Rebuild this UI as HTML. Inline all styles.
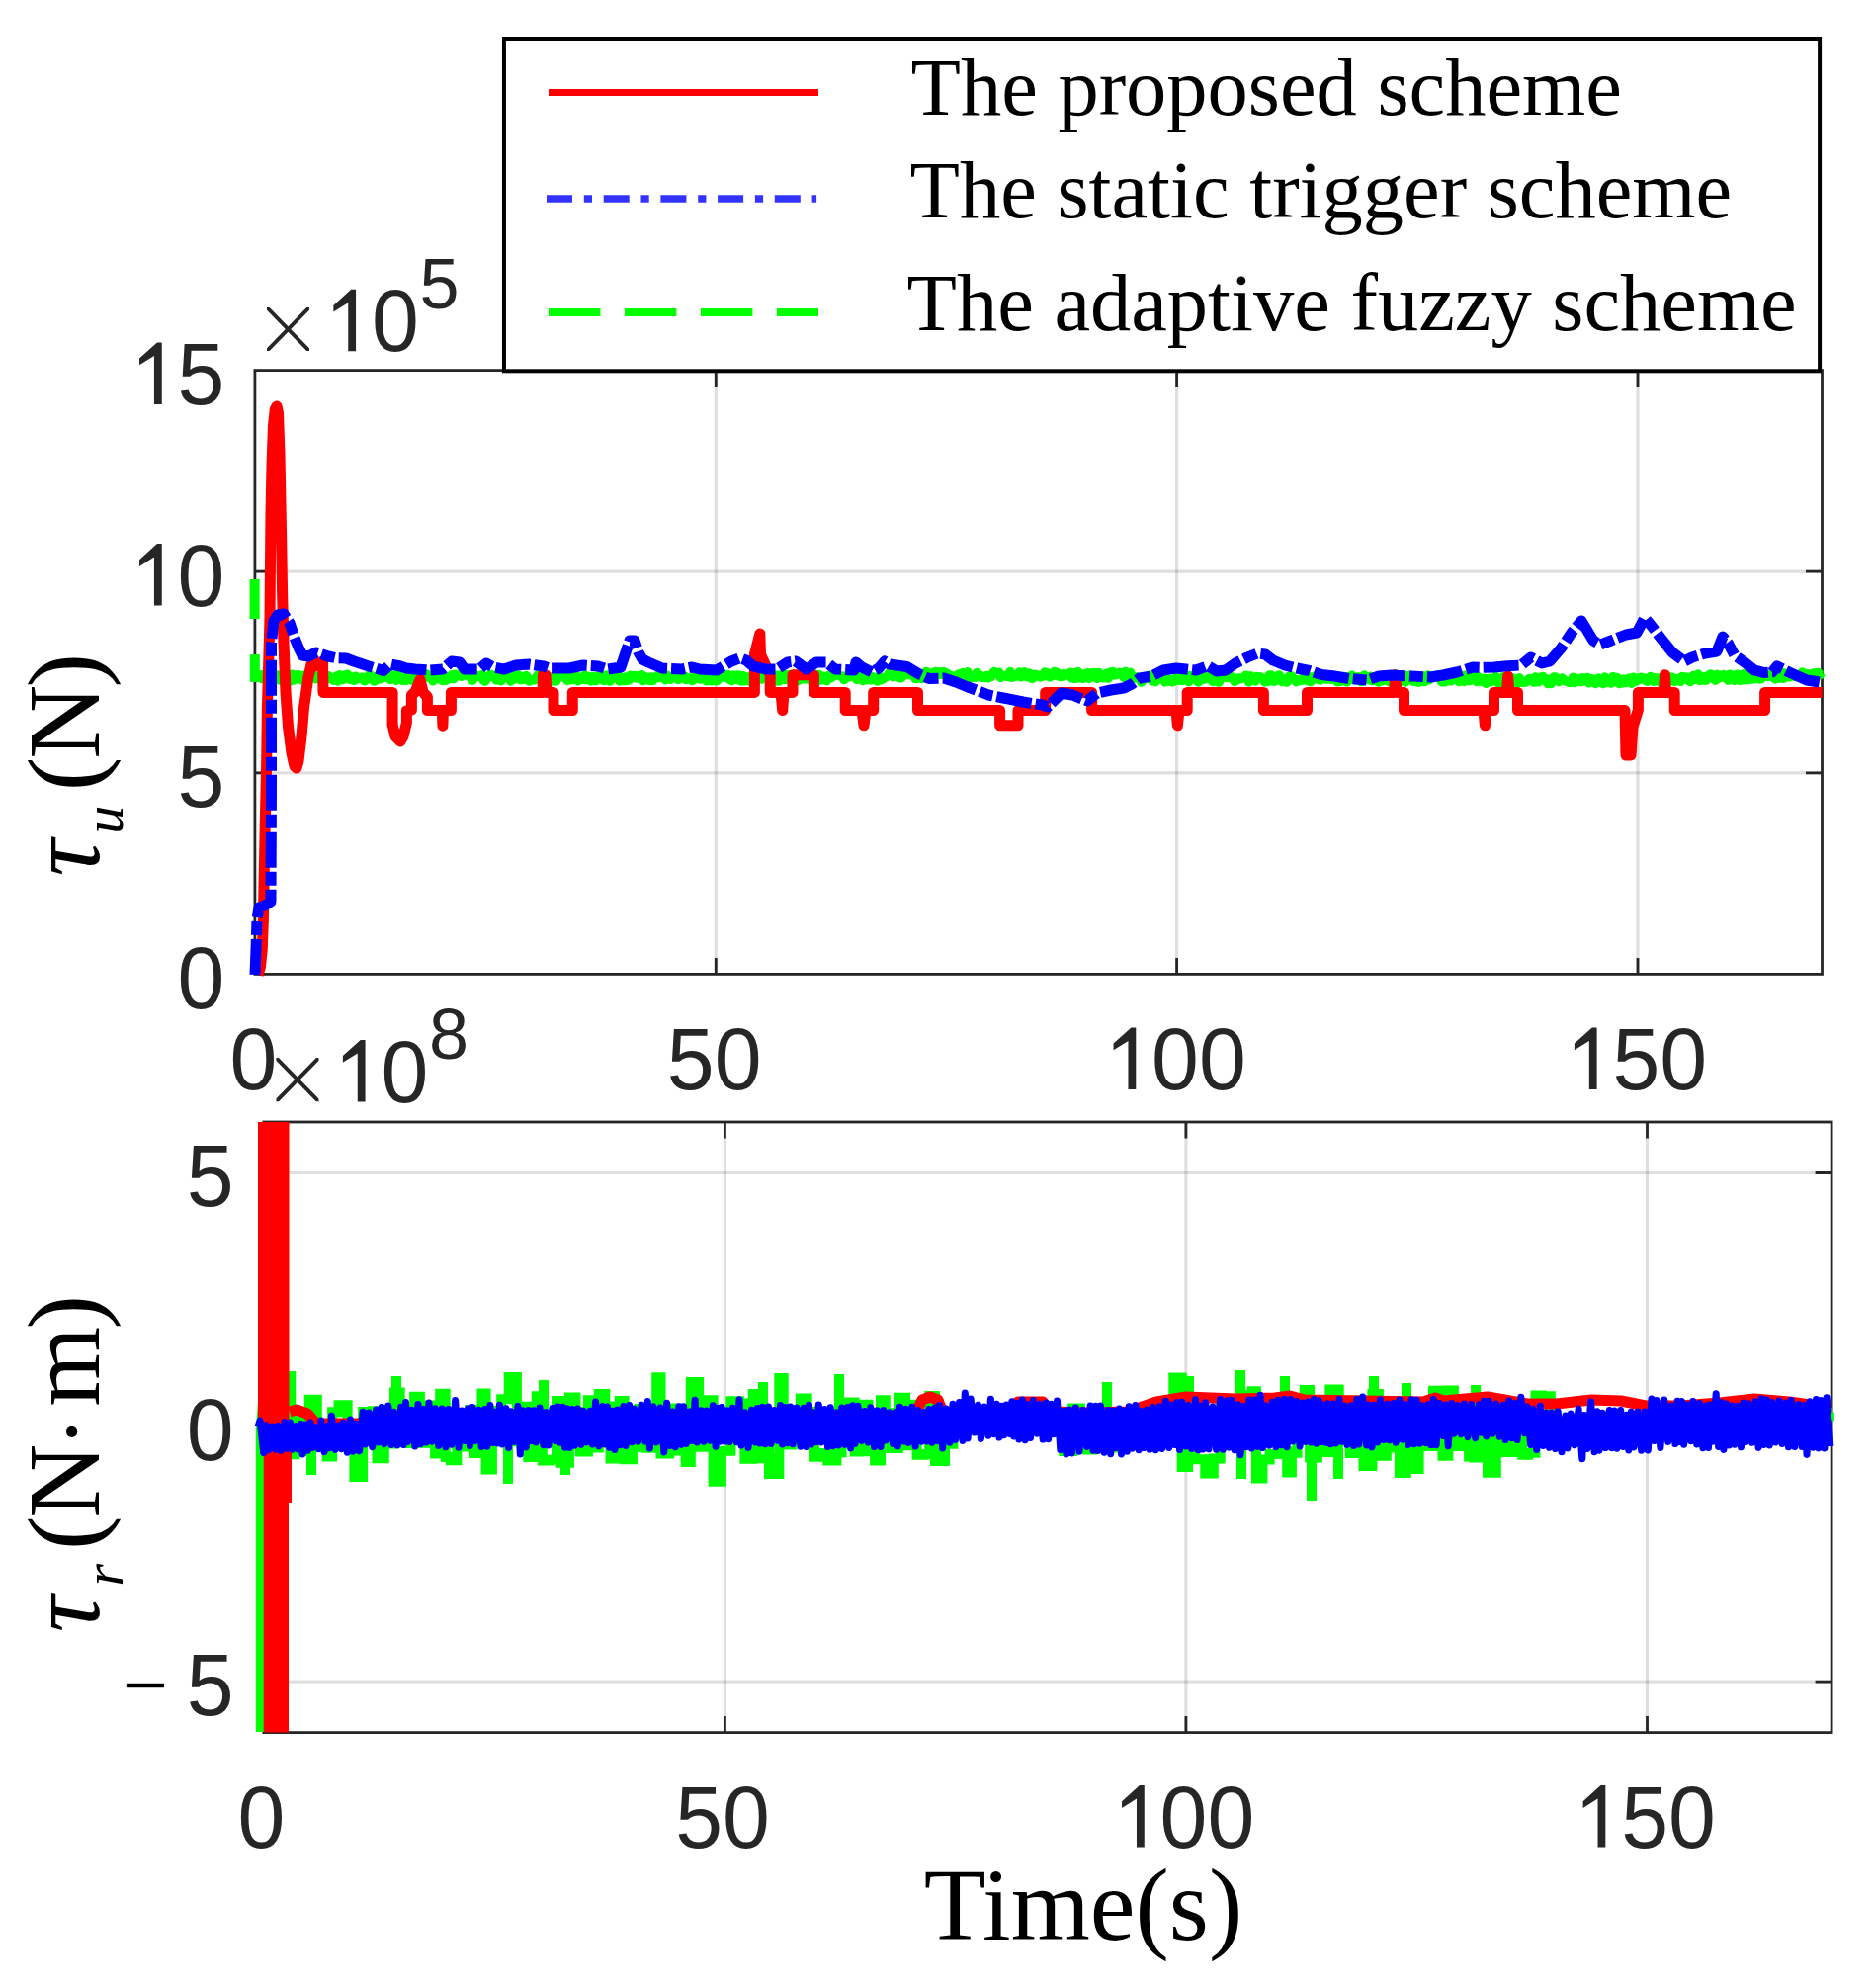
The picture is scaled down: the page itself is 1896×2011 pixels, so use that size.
<!DOCTYPE html>
<html><head><meta charset="utf-8"><style>
html,body{margin:0;padding:0;background:#fff;width:1896px;height:2011px;overflow:hidden}
svg{display:block}
.tk{font-family:"Liberation Sans",sans-serif;fill:#262626}
.sr{font-family:"Liberation Serif",serif;fill:#000}
</style></head><body>
<svg width="1896" height="2011" viewBox="0 0 1896 2011">
<rect width="1896" height="2011" fill="#fff"/>
<path d="M724.3 374.6V985.4M1190.6 374.6V985.4M1657.0 374.6V985.4" stroke="#262626" stroke-opacity="0.15" stroke-width="3.2" fill="none"/>
<path d="M257.9 781.8H1843.5M257.9 578.2H1843.5" stroke="#262626" stroke-opacity="0.15" stroke-width="3.2" fill="none"/>
<path d="M733.4 1135.0V1752.6M1199.9 1135.0V1752.6M1666.5 1135.0V1752.6" stroke="#262626" stroke-opacity="0.15" stroke-width="3.2" fill="none"/>
<path d="M266.8 1701.1H1853.1M266.8 1443.8H1853.1M266.8 1186.5H1853.1" stroke="#262626" stroke-opacity="0.15" stroke-width="3.2" fill="none"/>
<path d="M724.3 985.4V968.9M724.3 374.6V391.1M1190.6 985.4V968.9M1190.6 374.6V391.1M1657.0 985.4V968.9M1657.0 374.6V391.1M257.9 781.8H274.4M1843.5 781.8H1827.0M257.9 578.2H274.4M1843.5 578.2H1827.0" stroke="#262626" stroke-width="2.8" fill="none"/>
<rect x="257.9" y="374.6" width="1585.6" height="610.8" stroke="#262626" stroke-width="2.8" fill="none"/>
<path d="M733.4 1752.6V1736.1M733.4 1135.0V1151.5M1199.9 1752.6V1736.1M1199.9 1135.0V1151.5M1666.5 1752.6V1736.1M1666.5 1135.0V1151.5M266.8 1701.1H283.3M1853.1 1701.1H1836.6M266.8 1443.8H283.3M1853.1 1443.8H1836.6M266.8 1186.5H283.3M1853.1 1186.5H1836.6" stroke="#262626" stroke-width="2.8" fill="none"/>
<rect x="266.8" y="1135.0" width="1586.3" height="617.6" stroke="#262626" stroke-width="2.8" fill="none"/>
<path d="M257.6 586V626M257.8 662V690" stroke="#00ff00" stroke-width="10" fill="none"/>
<path d="M258.5 686.0 L262.0 684.2 L263.6 683.0 L265.2 686.6 L266.8 682.4 L268.4 685.8 L270.0 684.5 L271.6 682.3 L273.2 685.6 L274.8 682.2 L276.4 685.0 L278.0 682.4 L279.6 682.6 L281.2 685.0 L282.8 687.9 L284.4 682.8 L286.0 683.5 L287.6 686.4 L289.2 688.7 L290.8 686.1 L292.4 684.8 L294.0 688.9 L295.6 682.2 L297.2 688.1 L298.8 684.0 L300.4 682.9 L302.0 682.7 L303.6 684.1 L305.2 687.8 L306.8 683.2 L308.4 686.1 L310.0 686.5 L311.6 684.6 L313.2 685.8 L314.8 682.4 L316.4 682.3 L318.0 683.4 L319.6 686.8 L321.2 685.0 L322.8 684.2 L324.4 686.1 L326.0 685.2 L327.6 684.1 L329.2 687.6 L330.8 686.9 L332.4 683.7 L334.0 686.0 L335.6 685.7 L337.2 688.2 L338.8 687.2 L340.4 684.0 L342.0 689.0 L343.6 682.8 L345.2 684.9 L346.8 687.4 L348.4 683.0 L350.0 685.4 L351.6 682.2 L353.2 686.7 L354.8 687.4 L356.4 686.0 L358.0 688.2 L359.6 684.2 L361.2 686.9 L362.8 686.2 L364.4 686.1 L366.0 685.2 L367.6 687.9 L369.2 688.7 L370.8 685.3 L372.4 686.7 L374.0 682.3 L375.6 687.0 L377.2 686.6 L378.8 689.1 L380.4 687.8 L382.0 683.9 L383.6 684.7 L385.2 686.7 L386.8 682.1 L388.4 685.2 L390.0 683.1 L391.6 682.7 L393.2 682.3 L394.8 687.4 L396.4 682.8 L398.0 683.7 L399.6 684.7 L401.2 688.2 L402.8 682.5 L404.4 685.1 L406.0 685.9 L407.6 688.3 L409.2 687.8 L410.8 688.1 L412.4 683.9 L414.0 684.9 L415.6 684.5 L417.2 688.3 L418.8 688.8 L420.4 683.0 L422.0 683.2 L423.6 683.6 L425.2 683.6 L426.8 685.4 L428.4 686.1 L430.0 683.8 L431.6 681.9 L433.2 684.9 L434.8 684.6 L436.4 686.0 L438.0 688.8 L439.6 686.9 L441.2 685.6 L442.8 686.3 L444.4 686.8 L446.0 682.3 L447.6 688.4 L449.2 687.5 L450.8 688.2 L452.4 687.6 L454.0 684.7 L455.6 684.8 L457.2 682.6 L458.8 686.5 L460.4 682.3 L462.0 682.4 L463.6 683.4 L465.2 683.1 L466.8 684.3 L468.4 682.3 L470.0 681.9 L471.6 683.0 L473.2 682.6 L474.8 684.5 L476.4 682.1 L478.0 688.2 L479.6 686.3 L481.2 683.0 L482.8 683.7 L484.4 684.4 L486.0 684.5 L487.6 682.8 L489.2 688.0 L490.8 689.1 L492.4 685.3 L494.0 685.4 L495.6 682.5 L497.2 682.6 L498.8 684.4 L500.4 683.8 L502.0 687.9 L503.6 683.1 L505.2 682.1 L506.8 688.7 L508.4 685.7 L510.0 683.0 L511.6 685.8 L513.2 682.1 L514.8 685.7 L516.4 688.9 L518.0 688.1 L519.6 686.9 L521.2 683.8 L522.8 684.5 L524.4 683.1 L526.0 687.5 L527.6 685.7 L529.2 687.5 L530.8 684.3 L532.4 683.5 L534.0 687.7 L535.6 689.0 L537.2 688.0 L538.8 687.7 L540.4 687.8 L542.0 687.2 L543.6 683.5 L545.2 685.6 L546.8 684.5 L548.4 682.1 L550.0 682.1 L551.6 683.9 L553.2 683.8 L554.8 686.9 L556.4 688.8 L558.0 685.1 L559.6 688.6 L561.2 689.0 L562.8 688.8 L564.4 684.5 L566.0 683.5 L567.6 683.5 L569.2 683.3 L570.8 683.4 L572.4 686.4 L574.0 688.4 L575.6 688.0 L577.2 685.4 L578.8 686.6 L580.4 687.7 L582.0 682.5 L583.6 686.7 L585.2 688.5 L586.8 687.5 L588.4 687.3 L590.0 685.3 L591.6 683.2 L593.2 687.6 L594.8 684.3 L596.4 687.7 L598.0 688.9 L599.6 684.8 L601.2 684.8 L602.8 688.7 L604.4 687.1 L606.0 683.1 L607.6 682.8 L609.2 683.0 L610.8 688.4 L612.4 687.7 L614.0 683.0 L615.6 687.9 L617.2 689.0 L618.8 686.6 L620.4 684.4 L622.0 685.9 L623.6 682.8 L625.2 682.0 L626.8 688.9 L628.4 686.6 L630.0 685.7 L631.6 688.6 L633.2 685.0 L634.8 688.2 L636.4 687.8 L638.0 683.4 L639.6 683.7 L641.2 684.0 L642.8 683.6 L644.4 686.1 L646.0 683.8 L647.6 684.9 L649.2 682.8 L650.8 688.5 L652.4 684.4 L654.0 685.2 L655.6 686.1 L657.2 688.4 L658.8 684.9 L660.4 688.5 L662.0 685.5 L663.6 685.7 L665.2 685.7 L666.8 682.0 L668.4 685.1 L670.0 683.2 L671.6 681.9 L673.2 687.7 L674.8 683.1 L676.4 685.3 L678.0 687.1 L679.6 685.9 L681.2 684.2 L682.8 685.6 L684.4 685.9 L686.0 687.5 L687.6 682.7 L689.2 685.9 L690.8 683.7 L692.4 683.9 L694.0 687.5 L695.6 685.6 L697.2 685.9 L698.8 687.4 L700.4 688.5 L702.0 685.1 L703.6 686.3 L705.2 685.5 L706.8 685.6 L708.4 686.9 L710.0 685.2 L711.6 685.7 L713.2 685.3 L714.8 688.7 L716.4 686.9 L718.0 688.2 L719.6 688.7 L721.2 683.8 L722.8 685.9 L724.4 688.7 L726.0 687.9 L727.6 682.9 L729.2 682.8 L730.8 685.1 L732.4 682.4 L734.0 683.6 L735.6 682.4 L737.2 686.7 L738.8 687.5 L740.4 688.4 L742.0 683.0 L743.6 687.1 L745.2 686.7 L746.8 682.9 L748.4 688.3 L750.0 688.9 L751.6 683.5 L753.2 688.8 L754.8 684.8 L756.4 685.4 L758.0 689.0 L759.6 687.9 L761.2 683.1 L762.8 685.0 L764.4 685.6 L766.0 684.3 L767.6 683.3 L769.2 684.2 L770.8 687.1 L772.4 682.0 L774.0 685.9 L775.6 685.1 L777.2 682.0 L778.8 684.3 L780.4 686.4 L782.0 685.6 L783.6 682.4 L785.2 689.0 L786.8 687.6 L788.4 688.9 L790.0 682.7 L791.6 683.8 L793.2 682.2 L794.8 687.5 L796.4 683.8 L798.0 682.8 L799.6 684.9 L801.2 688.5 L802.8 687.8 L804.4 683.8 L806.0 683.0 L807.6 688.5 L809.2 686.0 L810.8 686.9 L812.4 682.5 L814.0 682.3 L815.6 686.9 L817.2 685.0 L818.8 682.4 L820.4 688.7 L822.0 686.5 L823.6 687.7 L825.2 682.5 L826.8 688.1 L828.4 682.4 L830.0 688.1 L831.6 685.2 L833.2 684.3 L834.8 685.9 L836.4 688.6 L838.0 683.8 L839.6 682.8 L841.2 685.7 L842.8 683.6 L844.4 682.7 L846.0 683.1 L847.6 682.3 L849.2 683.4 L850.8 684.1 L852.4 684.1 L854.0 687.4 L855.6 684.0 L857.2 685.5 L858.8 683.2 L860.4 684.4 L862.0 682.0 L863.6 683.7 L865.2 682.0 L866.8 687.2 L868.4 685.9 L870.0 683.3 L871.6 685.3 L873.2 688.6 L874.8 682.7 L876.4 687.8 L878.0 685.0 L879.6 685.5 L881.2 687.9 L882.8 684.7 L884.4 685.5 L886.0 686.9 L887.6 689.0 L889.2 684.4 L890.8 687.9 L892.4 687.0 L894.0 686.5 L895.6 684.8 L897.2 684.4 L898.8 682.3 L900.4 680.3 L902.0 679.9 L903.6 684.7 L905.2 681.2 L906.8 680.6 L908.4 680.0 L910.0 685.5 L911.6 685.7 L913.2 684.2 L914.8 681.4 L916.4 681.1 L918.0 681.5 L919.6 682.7 L921.2 680.5 L922.8 682.6 L924.4 681.3 L926.0 686.3 L927.6 686.4 L929.2 683.3 L930.8 681.2 L932.4 686.4 L934.0 681.6 L935.6 682.0 L937.2 679.4 L938.8 682.1 L940.4 682.8 L942.0 683.0 L943.6 680.8 L945.2 683.0 L946.8 679.4 L948.4 681.3 L950.0 680.0 L951.6 682.3 L953.2 679.7 L954.8 679.6 L956.4 681.6 L958.0 681.1 L959.6 683.6 L961.2 683.2 L962.8 684.8 L964.4 684.1 L966.0 684.6 L967.6 685.7 L969.2 682.2 L970.8 681.7 L972.4 686.5 L974.0 680.5 L975.6 684.6 L977.2 684.0 L978.8 679.7 L980.4 685.4 L982.0 685.8 L983.6 683.9 L985.2 684.7 L986.8 685.2 L988.4 680.4 L990.0 683.2 L991.6 683.0 L993.2 685.4 L994.8 685.2 L996.4 685.4 L998.0 683.6 L999.6 685.8 L1001.2 684.3 L1002.8 684.4 L1004.4 681.1 L1006.0 679.6 L1007.6 680.4 L1009.2 682.0 L1010.8 680.2 L1012.4 685.4 L1014.0 683.4 L1015.6 683.9 L1017.2 683.9 L1018.8 684.3 L1020.4 682.9 L1022.0 679.4 L1023.6 685.1 L1025.2 684.8 L1026.8 683.0 L1028.4 683.3 L1030.0 684.1 L1031.6 679.9 L1033.2 684.7 L1034.8 681.2 L1036.4 679.9 L1038.0 681.3 L1039.6 684.7 L1041.2 680.9 L1042.8 684.7 L1044.4 686.4 L1046.0 683.0 L1047.6 682.2 L1049.2 682.8 L1050.8 684.3 L1052.4 684.9 L1054.0 683.8 L1055.6 684.0 L1057.2 680.0 L1058.8 680.5 L1060.4 681.2 L1062.0 684.8 L1063.6 681.6 L1065.2 683.5 L1066.8 679.5 L1068.4 679.8 L1070.0 681.3 L1071.6 684.2 L1073.2 684.4 L1074.8 684.3 L1076.4 681.5 L1078.0 683.1 L1079.6 682.7 L1081.2 682.8 L1082.8 680.3 L1084.4 685.8 L1086.0 680.8 L1087.6 686.4 L1089.2 686.1 L1090.8 679.5 L1092.4 682.7 L1094.0 685.3 L1095.6 686.4 L1097.2 682.6 L1098.8 681.3 L1100.4 680.9 L1102.0 686.2 L1103.6 680.9 L1105.2 683.6 L1106.8 680.4 L1108.4 683.2 L1110.0 686.3 L1111.6 680.4 L1113.2 685.3 L1114.8 683.1 L1116.4 685.8 L1118.0 684.5 L1119.6 681.1 L1121.2 685.9 L1122.8 682.9 L1124.4 679.6 L1126.0 679.4 L1127.6 682.9 L1129.2 682.6 L1130.8 681.6 L1132.4 680.4 L1134.0 681.9 L1135.6 681.7 L1137.2 685.4 L1138.8 679.4 L1140.4 684.8 L1142.0 685.4 L1143.6 680.3 L1145.2 686.1 L1146.8 684.5 L1148.4 685.9 L1150.0 685.0 L1151.6 685.6 L1153.2 685.7 L1154.8 690.1 L1156.4 687.1 L1158.0 685.5 L1159.6 686.0 L1161.2 684.9 L1162.8 683.2 L1164.4 683.6 L1166.0 688.9 L1167.6 685.0 L1169.2 689.6 L1170.8 684.7 L1172.4 684.8 L1174.0 686.6 L1175.6 684.3 L1177.2 685.6 L1178.8 689.8 L1180.4 689.3 L1182.0 688.7 L1183.6 687.4 L1185.2 689.5 L1186.8 689.7 L1188.4 686.9 L1190.0 688.1 L1191.6 683.3 L1193.2 688.2 L1194.8 686.1 L1196.4 688.3 L1198.0 687.5 L1199.6 685.0 L1201.2 683.3 L1202.8 689.6 L1204.4 683.8 L1206.0 686.3 L1207.6 685.4 L1209.2 685.0 L1210.8 688.2 L1212.4 689.9 L1214.0 684.8 L1215.6 687.6 L1217.2 685.1 L1218.8 686.9 L1220.4 685.7 L1222.0 684.1 L1223.6 684.1 L1225.2 684.4 L1226.8 689.4 L1228.4 686.5 L1230.0 684.5 L1231.6 689.4 L1233.2 690.1 L1234.8 686.1 L1236.4 683.9 L1238.0 684.3 L1239.6 683.6 L1241.2 685.4 L1242.8 683.6 L1244.4 684.6 L1246.0 684.8 L1247.6 687.0 L1249.2 689.3 L1250.8 688.3 L1252.4 685.9 L1254.0 685.9 L1255.6 686.7 L1257.2 685.6 L1258.8 685.3 L1260.4 683.3 L1262.0 684.9 L1263.6 689.9 L1265.2 683.8 L1266.8 686.5 L1268.4 687.4 L1270.0 689.1 L1271.6 684.5 L1273.2 684.9 L1274.8 684.7 L1276.4 685.8 L1278.0 686.1 L1279.6 689.8 L1281.2 689.0 L1282.8 689.2 L1284.4 683.1 L1286.0 683.1 L1287.6 688.0 L1289.2 689.3 L1290.8 686.3 L1292.4 687.1 L1294.0 682.9 L1295.6 685.7 L1297.2 689.6 L1298.8 688.8 L1300.4 689.1 L1302.0 689.9 L1303.6 684.7 L1305.2 683.7 L1306.8 684.0 L1308.4 686.7 L1310.0 687.8 L1311.6 689.7 L1313.2 688.1 L1314.8 687.6 L1316.4 688.4 L1318.0 686.2 L1319.6 686.9 L1321.2 683.2 L1322.8 688.5 L1324.4 684.6 L1326.0 689.5 L1327.6 687.5 L1329.2 685.1 L1330.8 683.8 L1332.4 684.7 L1334.0 687.5 L1335.6 687.9 L1337.2 683.7 L1338.8 683.4 L1340.4 686.7 L1342.0 687.1 L1343.6 685.7 L1345.2 684.5 L1346.8 687.2 L1348.4 683.0 L1350.0 685.1 L1351.6 686.2 L1353.2 689.8 L1354.8 687.5 L1356.4 689.3 L1358.0 686.3 L1359.6 684.6 L1361.2 684.7 L1362.8 689.8 L1364.4 688.0 L1366.0 685.1 L1367.6 683.1 L1369.2 686.5 L1370.8 687.8 L1372.4 685.9 L1374.0 684.8 L1375.6 687.7 L1377.2 689.6 L1378.8 684.5 L1380.4 683.1 L1382.0 685.3 L1383.6 685.9 L1385.2 687.8 L1386.8 684.3 L1388.4 688.6 L1390.0 688.2 L1391.6 686.5 L1393.2 684.4 L1394.8 689.9 L1396.4 685.1 L1398.0 688.8 L1399.6 684.6 L1401.2 684.5 L1402.8 688.4 L1404.4 685.0 L1406.0 689.8 L1407.6 686.5 L1409.2 684.2 L1410.8 684.5 L1412.4 685.9 L1414.0 687.7 L1415.6 689.7 L1417.2 684.0 L1418.8 685.7 L1420.4 684.4 L1422.0 689.9 L1423.6 683.9 L1425.2 683.3 L1426.8 683.3 L1428.4 685.7 L1430.0 689.4 L1431.6 689.3 L1433.2 688.2 L1434.8 690.1 L1436.4 689.6 L1438.0 685.3 L1439.6 684.2 L1441.2 689.6 L1442.8 688.3 L1444.4 683.1 L1446.0 687.7 L1447.6 685.6 L1449.2 685.6 L1450.8 685.3 L1452.4 684.1 L1454.0 682.9 L1455.6 684.9 L1457.2 685.4 L1458.8 689.8 L1460.4 683.8 L1462.0 689.8 L1463.6 684.4 L1465.2 685.5 L1466.8 688.8 L1468.4 688.8 L1470.0 686.0 L1471.6 683.3 L1473.2 686.3 L1474.8 685.6 L1476.4 689.5 L1478.0 684.3 L1479.6 685.5 L1481.2 689.4 L1482.8 683.1 L1484.4 685.9 L1486.0 688.7 L1487.6 688.4 L1489.2 683.2 L1490.8 683.2 L1492.4 683.4 L1494.0 689.5 L1495.6 684.8 L1497.2 688.3 L1498.8 689.4 L1500.4 686.8 L1502.0 686.4 L1503.6 691.3 L1505.2 688.8 L1506.8 686.3 L1508.4 689.6 L1510.0 686.7 L1511.6 686.4 L1513.2 684.4 L1514.8 689.8 L1516.4 691.0 L1518.0 689.0 L1519.6 691.2 L1521.2 684.6 L1522.8 686.1 L1524.4 687.8 L1526.0 691.3 L1527.6 691.3 L1529.2 687.2 L1530.8 686.2 L1532.4 687.5 L1534.0 688.0 L1535.6 691.1 L1537.2 685.7 L1538.8 690.2 L1540.4 689.7 L1542.0 690.3 L1543.6 690.0 L1545.2 688.8 L1546.8 686.8 L1548.4 686.7 L1550.0 687.0 L1551.6 690.0 L1553.2 685.0 L1554.8 685.8 L1556.4 689.8 L1558.0 686.2 L1559.6 684.9 L1561.2 684.6 L1562.8 688.4 L1564.4 686.7 L1566.0 691.5 L1567.6 690.8 L1569.2 691.5 L1570.8 686.3 L1572.4 685.0 L1574.0 685.1 L1575.6 688.0 L1577.2 689.5 L1578.8 687.6 L1580.4 686.1 L1582.0 687.4 L1583.6 688.9 L1585.2 689.3 L1586.8 689.8 L1588.4 690.5 L1590.0 689.2 L1591.6 685.3 L1593.2 690.5 L1594.8 686.5 L1596.4 688.5 L1598.0 687.1 L1599.6 689.7 L1601.2 685.8 L1602.8 686.2 L1604.4 686.2 L1606.0 685.5 L1607.6 690.8 L1609.2 688.6 L1610.8 686.7 L1612.4 687.3 L1614.0 691.5 L1615.6 688.1 L1617.2 686.1 L1618.8 690.2 L1620.4 689.1 L1622.0 691.5 L1623.6 685.1 L1625.2 687.8 L1626.8 690.3 L1628.4 690.5 L1630.0 691.0 L1631.6 684.7 L1633.2 686.5 L1634.8 685.3 L1636.4 685.8 L1638.0 691.4 L1639.6 688.6 L1641.2 691.1 L1642.8 687.1 L1644.4 690.6 L1646.0 687.6 L1647.6 686.3 L1649.2 690.0 L1650.8 691.2 L1652.4 685.2 L1654.0 688.7 L1655.6 688.9 L1657.2 686.0 L1658.8 687.1 L1660.4 685.4 L1662.0 685.9 L1663.6 686.2 L1665.2 688.7 L1666.8 689.1 L1668.4 685.9 L1670.0 684.5 L1671.6 686.8 L1673.2 689.3 L1674.8 685.7 L1676.4 686.6 L1678.0 685.9 L1679.6 690.1 L1681.2 688.3 L1682.8 684.9 L1684.4 685.1 L1686.0 687.2 L1687.6 688.4 L1689.2 689.0 L1690.8 685.1 L1692.4 685.6 L1694.0 689.4 L1695.6 687.4 L1697.2 686.4 L1698.8 686.6 L1700.4 689.3 L1702.0 684.6 L1703.6 686.4 L1705.2 684.9 L1706.8 685.3 L1708.4 688.5 L1710.0 689.4 L1711.6 684.8 L1713.2 683.6 L1714.8 687.3 L1716.4 683.5 L1718.0 682.1 L1719.6 688.5 L1721.2 685.0 L1722.8 687.9 L1724.4 684.8 L1726.0 688.2 L1727.6 685.2 L1729.2 683.0 L1730.8 681.9 L1732.4 685.7 L1734.0 686.3 L1735.6 688.2 L1737.2 682.3 L1738.8 686.1 L1740.4 684.3 L1742.0 685.2 L1743.6 682.6 L1745.2 683.5 L1746.8 685.2 L1748.4 688.1 L1750.0 682.2 L1751.6 684.9 L1753.2 687.1 L1754.8 688.3 L1756.4 682.7 L1758.0 682.2 L1759.6 688.0 L1761.2 688.2 L1762.8 684.6 L1764.4 681.5 L1766.0 687.7 L1767.6 683.8 L1769.2 687.5 L1770.8 685.5 L1772.4 686.9 L1774.0 682.1 L1775.6 686.5 L1777.2 682.5 L1778.8 683.7 L1780.4 686.9 L1782.0 686.7 L1783.6 682.0 L1785.2 682.3 L1786.8 683.5 L1788.4 684.4 L1790.0 683.4 L1791.6 681.5 L1793.2 682.3 L1794.8 685.7 L1796.4 686.9 L1798.0 680.7 L1799.6 684.5 L1801.2 685.8 L1802.8 680.6 L1804.4 686.3 L1806.0 681.1 L1807.6 684.6 L1809.2 684.2 L1810.8 684.7 L1812.4 682.4 L1814.0 683.1 L1815.6 684.3 L1817.2 683.1 L1818.8 684.8 L1820.4 683.2 L1822.0 683.1 L1823.6 680.1 L1825.2 684.4 L1826.8 683.4 L1828.4 681.5 L1830.0 685.3 L1831.6 685.4 L1833.2 683.0 L1834.8 681.0 L1836.4 683.1 L1838.0 680.4 L1839.6 680.5 L1841.2 682.7 L1842.8 680.2" stroke="#00ff00" stroke-width="9.5" fill="none" stroke-linejoin="round"/>
<path d="M261.0 986.0 L263.5 978.0 L265.3 960.0 L266.4 930.0 L267.3 880.0 L268.2 836.0 L269.6 776.0 L270.4 716.0 L272.0 660.0 L273.0 625.0 L273.4 580.0 L274.0 520.0 L275.0 470.0 L276.5 430.0 L278.3 414.0 L280.0 411.0 L281.5 418.0 L283.0 460.0 L284.6 540.0 L285.6 600.0 L287.0 650.0 L289.0 700.0 L291.5 735.0 L295.0 762.0 L298.0 775.0 L300.0 777.0 L302.0 770.0 L305.0 745.0 L307.5 716.0 L311.8 686.0 L315.0 672.0 L318.0 674.0 L322.0 671.0 L326.5 669.0 L327.0 700.4 L397.1 700.4 L397.1 733.0 L400.0 745.0 L404.9 750.0 L408.0 745.0 L411.4 731.0 L411.4 719.0 L416.4 718.0 L416.4 703.0 L420.0 700.0 L425.0 687.3 L428.0 700.0 L432.4 705.0 L432.4 718.6 L447.4 718.6 L447.9 734.2 L448.4 718.6 L456.4 718.6 L456.4 700.4 L549.0 700.4 L549.5 682.8 L552.0 682.8 L553.0 700.4 L560.0 700.4 L560.0 718.6 L579.3 718.6 L579.3 700.4 L763.4 700.4 L763.4 662.0 L768.8 641.0 L769.5 662.0 L779.2 683.0 L779.2 700.4 L790.0 700.4 L791.7 718.6 L793.0 700.4 L802.0 700.4 L802.0 682.8 L823.4 682.8 L823.4 700.4 L855.2 700.4 L855.2 718.6 L872.0 718.6 L874.0 733.8 L876.0 718.6 L883.7 718.6 L883.7 700.4 L928.5 700.4 L928.5 718.6 L1011.6 718.6 L1011.6 733.8 L1030.0 733.8 L1030.0 718.6 L1057.7 718.6 L1057.7 700.4 L1104.6 700.4 L1104.6 718.6 L1190.0 718.6 L1191.4 733.8 L1193.0 718.6 L1201.2 718.6 L1201.2 700.4 L1278.4 700.4 L1278.4 718.6 L1322.5 718.6 L1322.5 700.4 L1410.5 700.4 L1411.7 682.8 L1413.0 700.4 L1420.5 700.4 L1420.5 718.6 L1501.0 718.6 L1502.4 733.8 L1504.0 718.6 L1511.5 718.6 L1511.5 700.4 L1524.5 700.4 L1525.6 684.0 L1527.0 700.4 L1535.5 700.4 L1535.5 718.6 L1644.0 718.6 L1645.0 764.0 L1650.0 764.0 L1652.0 735.0 L1657.4 718.0 L1657.4 700.4 L1683.5 700.4 L1684.4 682.8 L1685.5 700.4 L1694.2 700.4 L1694.2 718.6 L1785.6 718.6 L1785.6 700.4 L1843.5 700.4" stroke="#ff0000" stroke-width="11" fill="none" stroke-linejoin="round" stroke-linecap="butt"/>
<path d="M258.0 986.0 L259.0 960.0 L260.0 930.0 L262.0 918.0 L268.0 916.0 L274.0 912.0 L274.5 800.0 L274.5 650.0 L277.0 628.0 L281.0 622.0 L287.0 621.0 L293.0 630.0 L298.0 645.0 L302.0 655.0 L306.0 663.0 L312.0 664.0 L320.0 660.0 L326.0 662.0 L332.0 664.0 L340.0 665.7 L350.0 666.0 L358.0 669.0 L370.0 673.0 L388.0 678.5 L395.0 672.0 L405.0 674.0 L411.0 676.0 L420.0 677.0 L435.0 678.0 L448.0 677.0 L457.0 669.0 L465.0 670.0 L470.0 677.0 L485.0 677.0 L492.0 671.0 L499.0 675.0 L510.0 677.0 L522.0 673.0 L535.0 672.0 L550.0 674.0 L556.0 676.0 L565.0 676.0 L576.0 676.0 L590.0 673.0 L605.0 674.0 L615.0 677.0 L628.0 675.0 L637.0 648.0 L642.0 648.0 L646.0 660.0 L650.0 667.0 L656.0 670.0 L670.0 676.0 L690.0 677.0 L700.0 675.0 L708.0 677.0 L725.0 678.0 L740.0 669.0 L748.5 665.7 L755.0 668.0 L762.0 674.0 L775.0 677.0 L786.0 677.0 L797.0 670.0 L805.0 669.0 L816.0 677.0 L826.0 670.0 L836.0 670.0 L845.0 677.0 L864.0 678.0 L866.0 670.0 L872.0 675.0 L882.0 680.0 L889.0 676.0 L895.0 669.0 L900.0 672.0 L917.6 674.5 L930.0 682.0 L940.0 686.5 L955.0 686.0 L967.0 690.0 L978.0 694.5 L990.0 699.0 L1000.0 703.0 L1015.0 706.0 L1035.0 710.0 L1054.5 713.0 L1060.0 715.0 L1074.0 701.0 L1085.0 703.0 L1100.0 709.0 L1110.0 701.0 L1124.0 698.0 L1137.0 696.0 L1145.0 692.0 L1153.0 686.0 L1165.0 684.0 L1177.0 678.0 L1190.0 676.0 L1200.0 677.0 L1210.0 678.0 L1222.0 673.7 L1231.0 679.0 L1240.0 678.0 L1250.0 671.0 L1262.0 665.0 L1267.0 663.0 L1272.0 661.0 L1280.0 662.0 L1288.0 668.0 L1300.0 673.0 L1312.0 676.0 L1324.5 678.5 L1337.0 682.5 L1350.0 684.0 L1365.0 686.5 L1383.0 688.0 L1395.0 684.0 L1408.0 683.0 L1428.0 684.0 L1447.0 685.0 L1460.0 683.0 L1474.0 680.0 L1490.0 675.0 L1500.0 675.3 L1512.0 675.0 L1525.0 673.7 L1539.0 673.0 L1548.8 665.0 L1560.0 671.0 L1568.0 669.0 L1580.0 655.0 L1590.0 640.0 L1600.0 628.0 L1606.0 638.0 L1612.0 648.0 L1619.0 652.0 L1630.0 648.0 L1645.0 642.0 L1656.0 640.0 L1664.0 625.0 L1670.0 632.0 L1680.0 645.0 L1692.0 660.0 L1704.0 669.0 L1712.0 665.0 L1725.0 661.0 L1737.0 659.0 L1743.0 644.0 L1748.0 650.0 L1755.0 663.0 L1765.0 670.0 L1775.0 678.0 L1785.0 680.5 L1793.0 680.0 L1797.8 674.0 L1810.0 680.0 L1828.0 688.0 L1843.5 690.5" stroke="#0000ff" stroke-width="11" fill="none" stroke-linejoin="round" stroke-dasharray="36 4 14 4"/>
<path d="M263.8 1752.0 L263.8 1446.0 L266.0 1417.5 L272.8 1417.5 L272.8 1470.7 L279.9 1470.7 L279.9 1488.7 L284.4 1488.7 L284.4 1392.0 L294.2 1392.0 L294.2 1471.3 L298.3 1471.3 L298.3 1428.5 L303.7 1428.5 L303.7 1468.0 L312.8 1468.0 L312.8 1415.7 L320.8 1415.7 L320.8 1463.9 L330.7 1463.9 L330.7 1473.4 L336.1 1473.4 L336.1 1428.3 L342.5 1428.3 L342.5 1421.3 L351.6 1421.3 L351.6 1462.4 L358.4 1462.4 L358.4 1493.9 L367.1 1493.9 L367.1 1427.9 L376.9 1427.9 L376.9 1427.2 L381.5 1427.2 L381.5 1475.3 L388.8 1475.3 L388.8 1425.6 L393.6 1425.6 L393.6 1460.4 L398.9 1460.4 L398.9 1408.4 L404.7 1408.4 L404.7 1425.2 L413.9 1425.2 L413.9 1460.0 L419.1 1460.0 L419.1 1412.8 L424.9 1412.8 L424.9 1459.8 L430.4 1459.8 L430.4 1421.6 L440.1 1421.6 L440.1 1470.4 L445.2 1470.4 L445.2 1409.8 L450.7 1409.8 L450.7 1474.1 L455.9 1474.1 L455.9 1477.2 L462.4 1477.2 L462.4 1428.9 L467.9 1428.9 L467.9 1463.5 L475.4 1463.5 L475.4 1425.9 L479.9 1425.9 L479.9 1470.1 L487.5 1470.1 L487.5 1409.6 L491.6 1409.6 L491.6 1486.6 L497.9 1486.6 L497.9 1426.9 L507.2 1426.9 L507.2 1415.3 L514.7 1415.3 L514.7 1392.9 L522.9 1392.9 L522.9 1458.3 L529.8 1458.3 L529.8 1422.8 L534.3 1422.8 L534.3 1474.0 L542.7 1474.0 L542.7 1412.3 L548.8 1412.3 L548.8 1477.6 L555.3 1477.6 L555.3 1476.8 L563.0 1476.8 L563.0 1417.0 L567.5 1417.0 L567.5 1479.7 L575.9 1479.7 L575.9 1413.6 L582.5 1413.6 L582.5 1428.0 L586.7 1428.0 L586.7 1468.4 L594.9 1468.4 L594.9 1416.3 L600.4 1416.3 L600.4 1464.4 L605.7 1464.4 L605.7 1409.9 L612.3 1409.9 L612.3 1422.6 L617.5 1422.6 L617.5 1475.5 L626.8 1475.5 L626.8 1417.0 L631.6 1417.0 L631.6 1476.2 L639.9 1476.2 L639.9 1463.9 L646.6 1463.9 L646.6 1425.1 L654.3 1425.1 L654.3 1464.7 L664.2 1464.7 L664.2 1393.3 L668.5 1393.3 L668.5 1470.4 L677.2 1470.4 L677.2 1426.8 L681.4 1426.8 L681.4 1424.6 L685.6 1424.6 L685.6 1467.6 L693.6 1467.6 L693.6 1478.9 L698.8 1478.9 L698.8 1398.1 L707.1 1398.1 L707.1 1463.8 L715.2 1463.8 L715.2 1416.3 L721.6 1416.3 L721.6 1498.7 L729.9 1498.7 L729.9 1467.8 L739.4 1467.8 L739.4 1417.3 L748.2 1417.3 L748.2 1419.6 L753.4 1419.6 L753.4 1475.8 L761.7 1475.8 L761.7 1410.0 L771.6 1410.0 L771.6 1475.2 L781.0 1475.2 L781.0 1490.9 L788.3 1490.9 L788.3 1394.1 L792.7 1394.1 L792.7 1461.6 L801.4 1461.6 L801.4 1426.5 L809.8 1426.5 L809.8 1414.6 L816.7 1414.6 L816.7 1427.9 L823.9 1427.9 L823.9 1473.8 L831.0 1473.8 L831.0 1470.1 L837.3 1470.1 L837.3 1477.6 L846.4 1477.6 L846.4 1469.3 L851.6 1469.3 L851.6 1418.7 L855.8 1418.7 L855.8 1418.4 L864.6 1418.4 L864.6 1468.6 L869.0 1468.6 L869.0 1420.7 L878.5 1420.7 L878.5 1468.2 L885.1 1468.2 L885.1 1477.6 L891.0 1477.6 L891.0 1416.2 L895.8 1416.2 L895.8 1429.3 L901.2 1429.3 L901.2 1464.9 L908.9 1464.9 L908.9 1413.7 L916.0 1413.7 L916.0 1462.2 L922.6 1462.2 L922.6 1420.7 L927.6 1420.7 L927.6 1471.7 L934.7 1471.7 L934.7 1471.3 L940.1 1471.3 L940.1 1412.0 L946.0 1412.0 L946.0 1478.1 L956.0 1478.1 L956.0 1460.7 L964.4 1460.7 L964.4 1431.9 L973.4 1431.9 L973.4 1447.7 L978.1 1447.7 L978.1 1425.5 L982.2 1425.5 L982.2 1446.5 L991.7 1446.5 L991.7 1440.3 L998.7 1440.3 L998.7 1444.5 L1006.8 1444.5 L1006.8 1432.2 L1011.5 1432.2 L1011.5 1445.1 L1018.6 1445.1 L1018.6 1431.4 L1023.7 1431.4 L1023.7 1448.2 L1033.6 1448.2 L1033.6 1440.0 L1038.0 1440.0 L1038.0 1444.1 L1046.6 1444.1 L1046.6 1427.9 L1053.7 1427.9 L1053.7 1445.6 L1057.7 1445.6 L1057.7 1423.7 L1062.8 1423.7 L1062.8 1447.1 L1069.3 1447.1 L1069.3 1431.2 L1076.3 1431.2 L1076.3 1468.1 L1085.2 1468.1 L1085.2 1424.5 L1092.9 1424.5 L1092.9 1462.8 L1100.0 1462.8 L1100.0 1466.5 L1105.5 1466.5 L1105.5 1465.4 L1114.2 1465.4 L1114.2 1459.3 L1123.6 1459.3 L1123.6 1464.5 L1132.2 1464.5 L1132.2 1459.3 L1140.5 1459.3 L1140.5 1433.8 L1147.3 1433.8 L1147.3 1458.4 L1155.1 1458.4 L1155.1 1435.8 L1164.8 1435.8 L1164.8 1458.1 L1172.8 1458.1 L1172.8 1430.4 L1179.1 1430.4 L1179.1 1428.4 L1187.3 1428.4 L1187.3 1393.6 L1195.7 1393.6 L1195.7 1484.1 L1202.0 1484.1 L1202.0 1421.5 L1209.3 1421.5 L1209.3 1476.3 L1219.3 1476.3 L1219.3 1490.6 L1227.8 1490.6 L1227.8 1475.5 L1234.7 1475.5 L1234.7 1416.1 L1239.0 1416.1 L1239.0 1417.7 L1246.6 1417.7 L1246.6 1461.3 L1254.0 1461.3 L1254.0 1411.2 L1258.0 1411.2 L1258.0 1455.9 L1266.6 1455.9 L1266.6 1407.3 L1270.9 1407.3 L1270.9 1495.5 L1277.4 1495.5 L1277.4 1476.4 L1284.6 1476.4 L1284.6 1470.9 L1294.5 1470.9 L1294.5 1468.3 L1302.2 1468.3 L1302.2 1489.4 L1306.9 1489.4 L1306.9 1469.7 L1312.5 1469.7 L1312.5 1417.8 L1319.7 1417.8 L1319.7 1406.0 L1325.1 1406.0 L1325.1 1474.6 L1332.9 1474.6 L1332.9 1421.0 L1340.3 1421.0 L1340.3 1468.9 L1345.4 1468.9 L1345.4 1405.4 L1354.7 1405.4 L1354.7 1456.3 L1361.2 1456.3 L1361.2 1424.7 L1365.7 1424.7 L1365.7 1469.9 L1373.5 1469.9 L1373.5 1416.5 L1379.5 1416.5 L1379.5 1482.9 L1388.4 1482.9 L1388.4 1410.1 L1394.9 1410.1 L1394.9 1472.8 L1402.8 1472.8 L1402.8 1462.2 L1411.3 1462.2 L1411.3 1464.4 L1415.9 1464.4 L1415.9 1490.0 L1422.8 1490.0 L1422.8 1420.4 L1427.3 1420.4 L1427.3 1485.9 L1435.6 1485.9 L1435.6 1420.8 L1441.8 1420.8 L1441.8 1463.1 L1450.0 1463.1 L1450.0 1406.8 L1459.5 1406.8 L1459.5 1472.7 L1465.4 1472.7 L1465.4 1406.4 L1470.9 1406.4 L1470.9 1463.0 L1477.3 1463.0 L1477.3 1422.7 L1486.1 1422.7 L1486.1 1473.4 L1491.1 1473.4 L1491.1 1474.4 L1495.2 1474.4 L1495.2 1415.0 L1505.0 1415.0 L1505.0 1489.7 L1513.8 1489.7 L1513.8 1425.2 L1523.2 1425.2 L1523.2 1469.0 L1531.6 1469.0 L1531.6 1421.6 L1540.2 1421.6 L1540.2 1471.8 L1546.3 1471.8 L1546.3 1469.8 L1553.5 1469.8 L1553.5 1411.4 L1559.9 1411.4 L1559.9 1412.3 L1568.8 1412.3 L1568.8 1455.7 L1578.1 1455.7 L1578.1 1458.9 L1586.0 1458.9 L1586.0 1447.6 L1594.2 1447.6 L1594.2 1454.9 L1600.7 1454.9 L1600.7 1444.9 L1605.6 1444.9 L1605.6 1453.3 L1615.6 1453.3 L1615.6 1443.8 L1620.6 1443.8 L1620.6 1439.3 L1627.1 1439.3 L1627.1 1441.6 L1636.9 1441.6 L1636.9 1435.5 L1642.8 1435.5 L1642.8 1437.0 L1650.7 1437.0 L1650.7 1454.2 L1655.8 1454.2 L1655.8 1435.6 L1662.5 1435.6 L1662.5 1449.2 L1672.0 1449.2 L1672.0 1425.2 L1676.6 1425.2 L1676.6 1429.9 L1681.9 1429.9 L1681.9 1431.5 L1690.2 1431.5 L1690.2 1443.0 L1695.6 1443.0 L1695.6 1429.9 L1701.3 1429.9 L1701.3 1429.5 L1709.8 1429.5 L1709.8 1434.0 L1717.1 1434.0 L1717.1 1450.1 L1724.0 1450.1 L1724.0 1432.3 L1733.3 1432.3 L1733.3 1453.3 L1739.3 1453.3 L1739.3 1441.5 L1749.1 1441.5 L1749.1 1439.4 L1754.4 1439.4 L1754.4 1425.6 L1764.1 1425.6 L1764.1 1449.6 L1770.4 1449.6 L1770.4 1440.9 L1777.5 1440.9 L1777.5 1432.8 L1787.4 1432.8 L1787.4 1445.0 L1792.9 1445.0 L1792.9 1424.3 L1799.7 1424.3 L1799.7 1435.9 L1808.5 1435.9 L1808.5 1446.8 L1816.1 1446.8 L1816.1 1429.0 L1821.1 1429.0 L1821.1 1434.3 L1826.6 1434.3 L1826.6 1451.8 L1833.7 1451.8 L1833.7 1444.4 L1843.7 1444.4 L1843.7 1432.5 L1850.9 1432.5 L1850.9 1428.8 L1853.5 1428.8" stroke="#00ff00" stroke-width="10" fill="none" stroke-linejoin="miter"/>
<path d="M1327 1443.8V1518M1255 1443.8V1386M1256 1443.8V1496M1203 1443.8V1392M1354 1443.8V1496M1423 1443.8V1399M1493 1443.8V1401M401 1443.8V1392M550 1443.8V1396M849 1443.8V1390M772 1443.8V1398M514 1443.8V1501M778 1443.8V1496M572 1443.8V1492M315 1443.8V1492M1120 1443.8V1398M1300 1443.8V1392M1390 1443.8V1392" stroke="#00ff00" stroke-width="10" fill="none"/>
<path d="M261 1135H292.5V1443H295V1520H292V1752.5H266.7V1445H261Z" fill="#ff0000"/>
<path d="M293.0 1428.0 L300.0 1426.0 L311.0 1430.0 L320.0 1440.0 L900.0 1440.0 L925.0 1432.0 L933.0 1416.0 L941.0 1413.0 L949.0 1416.0 L955.0 1432.0 L1020.0 1426.0 L1030.0 1418.0 L1055.0 1418.0 L1062.0 1428.0 L1100.0 1429.0 L1140.0 1428.0 L1150.0 1425.0 L1170.0 1418.0 L1200.0 1413.0 L1250.0 1415.0 L1290.0 1414.0 L1305.0 1412.0 L1320.0 1416.0 L1440.0 1418.0 L1452.0 1414.0 L1460.0 1417.0 L1505.0 1413.0 L1545.0 1420.0 L1575.0 1420.0 L1610.0 1416.0 L1640.0 1417.0 L1665.0 1422.0 L1700.0 1422.0 L1740.0 1419.0 L1775.0 1415.0 L1810.0 1418.0 L1853.0 1424.0" stroke="#ff0000" stroke-width="11" fill="none" stroke-linejoin="round"/>
<path d="M261.0 1443.0 L263.0 1437.0 L266.7 1469.6 L269.2 1441.7 L272.2 1466.7 L275.4 1442.9 L278.9 1466.3 L281.1 1442.6 L284.2 1467.2 L287.9 1438.5 L290.0 1465.4 L293.5 1438.9 L295.7 1466.2 L299.6 1442.6 L301.6 1466.0 L304.1 1440.5 L306.1 1470.9 L308.5 1440.9 L311.3 1467.3 L314.0 1439.1 L316.5 1464.6 L319.1 1443.6 L322.6 1465.7 L324.8 1437.1 L328.1 1468.7 L330.9 1442.7 L333.1 1464.8 L335.4 1432.3 L339.2 1466.4 L342.5 1442.1 L345.3 1465.7 L347.3 1439.2 L351.3 1469.3 L354.5 1436.1 L357.2 1468.2 L359.9 1440.1 L363.6 1467.9 L367.1 1428.2 L369.8 1461.0 L373.2 1428.9 L376.7 1463.7 L380.6 1426.0 L382.7 1459.0 L386.1 1423.6 L388.8 1460.7 L392.8 1422.1 L395.9 1461.5 L398.4 1428.3 L402.0 1461.8 L405.7 1423.3 L408.2 1461.6 L410.5 1418.4 L412.6 1458.4 L416.5 1426.3 L419.8 1462.9 L423.0 1420.4 L425.4 1460.7 L428.2 1425.6 L431.2 1459.1 L433.9 1419.1 L437.2 1458.2 L440.4 1424.8 L443.7 1462.5 L447.2 1424.9 L450.9 1463.8 L453.7 1425.5 L456.8 1461.2 L460.6 1416.6 L464.0 1464.2 L467.2 1427.0 L470.4 1457.6 L473.3 1425.0 L475.4 1462.6 L477.9 1423.5 L480.4 1457.5 L484.3 1426.3 L487.1 1463.4 L490.6 1425.5 L492.8 1463.3 L495.9 1421.6 L498.4 1459.4 L500.5 1428.2 L503.3 1459.9 L505.4 1421.2 L508.0 1461.0 L512.0 1424.8 L514.6 1464.4 L517.0 1427.7 L519.9 1458.4 L523.9 1422.6 L526.3 1471.0 L528.5 1426.8 L532.3 1464.0 L534.6 1426.6 L537.4 1457.6 L540.1 1426.7 L542.4 1458.9 L546.0 1424.0 L549.8 1461.7 L552.4 1428.4 L554.9 1462.1 L558.9 1424.5 L562.0 1457.4 L564.5 1423.0 L566.7 1459.3 L569.2 1423.2 L571.6 1464.2 L573.6 1424.7 L576.4 1464.4 L578.8 1425.4 L581.5 1462.3 L584.5 1425.0 L587.9 1461.2 L590.2 1427.2 L593.4 1458.9 L597.0 1427.3 L599.5 1460.9 L602.6 1418.0 L605.8 1462.7 L609.6 1422.4 L611.6 1461.0 L614.5 1423.1 L616.6 1464.3 L619.7 1427.3 L622.0 1466.5 L624.6 1426.0 L627.2 1461.7 L630.8 1422.4 L633.1 1462.5 L636.7 1421.5 L639.4 1458.7 L641.5 1424.9 L645.5 1458.2 L649.0 1421.3 L652.8 1458.1 L655.3 1417.4 L657.4 1465.0 L660.9 1422.8 L664.0 1458.9 L667.9 1423.9 L671.8 1468.9 L674.6 1419.2 L677.3 1462.6 L680.5 1428.1 L683.3 1463.7 L686.8 1422.7 L689.2 1461.4 L691.6 1422.7 L694.2 1460.6 L697.6 1427.9 L700.4 1457.6 L703.1 1416.2 L705.4 1459.1 L709.3 1426.7 L712.0 1458.2 L714.7 1427.1 L718.5 1457.2 L721.3 1421.7 L724.0 1463.2 L726.1 1424.2 L728.2 1458.2 L730.2 1423.5 L733.3 1458.1 L735.8 1426.8 L738.1 1458.6 L741.5 1424.2 L745.3 1458.8 L748.0 1415.7 L750.0 1462.0 L753.6 1428.8 L757.0 1464.4 L760.4 1426.3 L764.1 1458.9 L766.3 1424.4 L768.4 1460.1 L771.4 1423.2 L774.2 1460.8 L777.5 1422.9 L780.2 1460.4 L783.4 1426.6 L786.8 1457.2 L789.5 1421.5 L791.6 1461.0 L794.5 1423.6 L796.6 1459.8 L799.7 1423.1 L802.1 1460.8 L806.0 1423.9 L809.9 1463.2 L813.1 1424.3 L815.7 1463.6 L818.5 1421.3 L820.7 1461.1 L823.4 1428.8 L825.8 1458.8 L828.3 1421.0 L831.1 1458.9 L834.4 1425.4 L837.5 1463.6 L840.2 1423.8 L842.8 1462.7 L846.2 1428.7 L848.5 1462.0 L851.6 1424.0 L855.1 1461.3 L857.6 1423.6 L860.6 1465.0 L862.8 1421.8 L865.0 1460.6 L868.0 1422.3 L871.7 1457.4 L874.7 1427.4 L878.2 1459.0 L880.8 1423.7 L884.5 1463.6 L887.3 1426.7 L891.0 1463.4 L893.8 1426.4 L896.1 1457.1 L900.0 1428.8 L903.4 1460.4 L906.2 1428.5 L908.3 1462.7 L910.4 1423.3 L914.3 1458.0 L916.4 1425.3 L919.1 1459.5 L922.8 1423.3 L926.1 1463.1 L928.8 1426.6 L932.4 1458.2 L934.6 1428.5 L937.6 1458.0 L939.7 1425.5 L942.9 1459.2 L945.9 1423.9 L948.0 1457.5 L950.6 1421.6 L953.6 1465.0 L957.3 1424.9 L960.9 1459.2 L964.0 1420.3 L966.6 1456.5 L970.6 1418.5 L974.0 1457.4 L976.3 1409.0 L979.1 1455.0 L982.1 1415.1 L986.0 1449.1 L989.6 1421.3 L992.4 1455.4 L996.0 1422.9 L999.9 1452.2 L1002.4 1415.3 L1005.5 1450.8 L1008.3 1420.3 L1011.0 1454.1 L1013.5 1422.2 L1015.7 1451.7 L1018.2 1420.9 L1021.5 1450.4 L1023.8 1417.8 L1025.8 1453.0 L1028.5 1419.3 L1030.9 1456.0 L1034.4 1415.9 L1037.2 1456.7 L1040.1 1420.6 L1042.6 1454.4 L1045.3 1416.5 L1049.2 1450.2 L1052.0 1420.2 L1055.2 1456.1 L1058.5 1419.0 L1060.7 1455.7 L1063.6 1420.3 L1066.4 1450.8 L1069.5 1417.1 L1072.8 1466.6 L1076.0 1427.5 L1078.9 1470.9 L1081.5 1425.9 L1084.3 1469.9 L1088.3 1423.9 L1092.0 1468.2 L1095.7 1426.4 L1099.6 1463.5 L1103.1 1422.0 L1106.0 1467.3 L1108.4 1422.2 L1110.5 1467.4 L1113.5 1421.9 L1117.2 1469.2 L1121.0 1426.4 L1123.7 1470.8 L1126.4 1426.9 L1128.7 1464.5 L1132.4 1424.9 L1134.5 1470.9 L1137.8 1427.0 L1140.2 1468.3 L1142.2 1422.7 L1145.5 1465.2 L1148.8 1421.4 L1152.2 1466.7 L1154.5 1427.5 L1157.2 1464.6 L1160.6 1425.9 L1163.2 1466.3 L1166.4 1423.4 L1169.3 1466.7 L1173.2 1422.8 L1175.6 1465.6 L1179.4 1417.3 L1182.7 1464.6 L1185.5 1420.9 L1188.4 1461.5 L1191.0 1418.5 L1193.5 1466.6 L1196.0 1418.3 L1199.8 1463.0 L1202.5 1421.6 L1205.7 1465.4 L1209.5 1415.7 L1212.2 1466.8 L1214.9 1422.2 L1217.0 1466.1 L1219.7 1418.7 L1223.0 1465.8 L1227.0 1422.9 L1230.6 1466.2 L1234.6 1415.5 L1237.4 1466.2 L1241.4 1416.7 L1243.7 1464.2 L1245.9 1416.3 L1249.1 1466.9 L1252.7 1420.8 L1255.0 1471.7 L1258.7 1422.6 L1260.7 1463.8 L1263.8 1415.9 L1266.4 1465.1 L1269.5 1416.0 L1272.6 1463.4 L1275.1 1411.3 L1277.5 1464.6 L1280.4 1421.8 L1284.1 1462.2 L1287.2 1418.3 L1290.9 1463.7 L1292.9 1416.2 L1296.4 1461.7 L1299.5 1415.2 L1302.1 1463.7 L1305.7 1415.4 L1307.9 1458.1 L1311.7 1417.6 L1315.1 1463.1 L1318.2 1419.0 L1321.0 1458.4 L1323.5 1417.9 L1326.4 1458.9 L1329.3 1415.4 L1331.5 1460.2 L1334.3 1416.8 L1337.0 1458.5 L1339.5 1421.0 L1341.5 1459.3 L1343.5 1419.7 L1346.2 1460.8 L1348.8 1419.9 L1351.5 1460.0 L1355.0 1415.4 L1357.5 1458.2 L1360.3 1421.9 L1362.9 1461.4 L1366.9 1421.7 L1369.5 1462.6 L1372.8 1415.5 L1374.9 1461.0 L1378.7 1413.1 L1382.6 1462.0 L1384.6 1420.9 L1388.0 1463.9 L1390.1 1421.3 L1393.6 1459.0 L1396.5 1415.9 L1400.0 1456.6 L1403.6 1420.3 L1405.9 1456.9 L1409.8 1419.5 L1412.2 1459.3 L1415.9 1416.0 L1418.8 1456.3 L1421.6 1420.4 L1424.6 1461.5 L1428.1 1415.8 L1430.5 1460.7 L1433.2 1416.3 L1436.3 1460.2 L1439.5 1421.7 L1442.6 1459.8 L1445.3 1420.6 L1447.8 1461.8 L1450.3 1415.5 L1453.1 1461.7 L1456.3 1419.5 L1460.2 1452.6 L1462.6 1421.0 L1465.2 1462.8 L1468.6 1419.5 L1471.3 1450.2 L1474.8 1421.4 L1478.4 1450.7 L1481.5 1419.9 L1485.0 1453.7 L1488.8 1420.5 L1492.7 1454.7 L1496.5 1420.8 L1499.0 1449.2 L1501.5 1417.3 L1503.7 1452.9 L1506.3 1417.2 L1510.0 1450.3 L1513.7 1419.9 L1517.2 1453.3 L1521.1 1421.2 L1523.2 1456.5 L1526.7 1416.9 L1529.5 1454.8 L1532.5 1419.5 L1535.0 1456.6 L1538.8 1413.3 L1542.6 1449.8 L1544.9 1422.9 L1548.6 1461.5 L1550.8 1425.2 L1554.7 1466.5 L1558.3 1422.2 L1561.3 1462.5 L1564.1 1429.0 L1567.5 1464.3 L1569.6 1428.9 L1573.6 1465.5 L1576.2 1427.7 L1580.0 1468.8 L1583.9 1431.9 L1585.9 1464.9 L1589.3 1429.9 L1593.2 1461.7 L1597.1 1425.3 L1600.8 1475.7 L1602.9 1431.6 L1605.9 1465.6 L1609.6 1418.0 L1613.1 1468.8 L1616.0 1427.7 L1618.0 1467.2 L1621.2 1429.2 L1624.5 1464.6 L1628.3 1426.4 L1630.8 1464.8 L1633.4 1426.9 L1636.0 1465.2 L1639.7 1426.5 L1642.3 1463.6 L1645.7 1431.3 L1647.8 1467.1 L1650.3 1428.3 L1653.0 1463.9 L1657.0 1428.1 L1660.6 1467.3 L1664.1 1428.0 L1667.3 1466.9 L1671.0 1415.1 L1673.7 1457.5 L1676.0 1416.6 L1679.9 1464.5 L1683.8 1416.1 L1687.7 1458.5 L1691.0 1422.1 L1694.9 1460.6 L1697.2 1417.2 L1699.3 1458.5 L1701.4 1417.5 L1703.7 1461.2 L1706.8 1421.1 L1710.7 1457.7 L1712.9 1417.5 L1716.7 1461.0 L1719.4 1419.5 L1722.9 1464.8 L1726.2 1421.8 L1728.5 1464.6 L1730.6 1421.1 L1732.7 1458.3 L1736.2 1409.7 L1738.6 1463.4 L1741.9 1418.7 L1743.9 1466.4 L1746.5 1420.0 L1749.4 1462.0 L1752.1 1422.1 L1755.0 1461.3 L1757.6 1422.3 L1761.5 1463.8 L1763.8 1419.1 L1766.4 1458.4 L1768.9 1419.7 L1772.8 1459.3 L1776.1 1417.8 L1779.1 1464.4 L1781.9 1415.0 L1784.4 1461.6 L1787.3 1415.7 L1790.3 1462.1 L1792.9 1418.5 L1796.5 1458.9 L1800.1 1417.0 L1803.1 1460.4 L1807.0 1418.9 L1809.5 1463.7 L1812.2 1416.6 L1815.9 1463.4 L1819.7 1420.5 L1823.2 1463.5 L1825.5 1421.5 L1828.0 1471.4 L1831.0 1417.7 L1834.2 1464.3 L1837.5 1415.5 L1839.8 1464.9 L1842.4 1416.5 L1845.9 1464.9 L1848.1 1413.8 L1851.9 1463.1" stroke="#0000ff" stroke-width="7" fill="none" stroke-linejoin="round"/>
<text class="tk" font-size="86" transform="translate(179.57,1019.80) scale(1,1.04)">0</text>
<text class="tk" font-size="86" transform="translate(179.57,816.20) scale(1,1.04)">5</text>
<path d="M32.0 0V-62.6H27.2L9.3 -46.4V-39.7L24.2 -49.0V0Z" fill="#262626" transform="translate(131.74,612.60) scale(1.0000,1.0000)"/><text class="tk" font-size="86" transform="translate(179.57,612.60) scale(1,1.04)">0</text>
<path d="M32.0 0V-62.6H27.2L9.3 -46.4V-39.7L24.2 -49.0V0Z" fill="#262626" transform="translate(131.74,409.00) scale(1.0000,1.0000)"/><text class="tk" font-size="86" transform="translate(179.57,409.00) scale(1,1.04)">5</text>
<text class="tk" font-size="86" transform="translate(232.39,1102.00) scale(1,1.04)">0</text>
<text class="tk" font-size="86" transform="translate(674.82,1102.00) scale(1,1.04)">5</text><text class="tk" font-size="86" transform="translate(722.65,1102.00) scale(1,1.04)">0</text>
<path d="M32.0 0V-62.6H27.2L9.3 -46.4V-39.7L24.2 -49.0V0Z" fill="#262626" transform="translate(1117.26,1102.00) scale(1.0000,1.0000)"/><text class="tk" font-size="86" transform="translate(1165.09,1102.00) scale(1,1.04)">0</text><text class="tk" font-size="86" transform="translate(1212.92,1102.00) scale(1,1.04)">0</text>
<path d="M32.0 0V-62.6H27.2L9.3 -46.4V-39.7L24.2 -49.0V0Z" fill="#262626" transform="translate(1583.62,1102.00) scale(1.0000,1.0000)"/><text class="tk" font-size="86" transform="translate(1631.44,1102.00) scale(1,1.04)">5</text><text class="tk" font-size="86" transform="translate(1679.27,1102.00) scale(1,1.04)">0</text>
<text class="tk" font-size="86" transform="translate(188.77,1219.97) scale(1,1.04)">5</text>
<text class="tk" font-size="86" transform="translate(188.77,1477.30) scale(1,1.04)">0</text>
<text class="tk" font-size="86" transform="translate(188.77,1734.63) scale(1,1.04)">5</text>
<rect x="127.9" y="1702.8" width="38.1" height="4.4" fill="#000"/>
<text class="tk" font-size="86" transform="translate(240.49,1868.60) scale(1,1.04)">0</text>
<text class="tk" font-size="86" transform="translate(683.13,1868.60) scale(1,1.04)">5</text><text class="tk" font-size="86" transform="translate(730.96,1868.60) scale(1,1.04)">0</text>
<path d="M32.0 0V-62.6H27.2L9.3 -46.4V-39.7L24.2 -49.0V0Z" fill="#262626" transform="translate(1125.77,1868.60) scale(1.0000,1.0000)"/><text class="tk" font-size="86" transform="translate(1173.60,1868.60) scale(1,1.04)">0</text><text class="tk" font-size="86" transform="translate(1221.43,1868.60) scale(1,1.04)">0</text>
<path d="M32.0 0V-62.6H27.2L9.3 -46.4V-39.7L24.2 -49.0V0Z" fill="#262626" transform="translate(1592.33,1868.60) scale(1.0000,1.0000)"/><text class="tk" font-size="86" transform="translate(1640.16,1868.60) scale(1,1.04)">5</text><text class="tk" font-size="86" transform="translate(1687.99,1868.60) scale(1,1.04)">0</text>
<clipPath id="cx0"><rect x="269.9" y="310.9" width="43.1" height="44.2"/></clipPath>
<path clip-path="url(#cx0)" d="M266.9 307.9L316.0 358.1M316.0 307.9L266.9 358.1" stroke="#262626" stroke-width="3.9"/>
<path d="M32.0 0V-62.6H27.2L9.3 -46.4V-39.7L24.2 -49.0V0Z" fill="#262626" transform="translate(328.06,355.30) scale(1.0000,1.0000)"/><text class="tk" font-size="86" transform="translate(375.89,355.30) scale(1,1.04)">0</text>
<text class="tk" font-size="72" transform="translate(424.52,311.70) scale(1,1.0)">5</text>
<clipPath id="cx759"><rect x="279.4" y="1070.1" width="43.1" height="44.2"/></clipPath>
<path clip-path="url(#cx759)" d="M276.4 1067.1L325.5 1117.3M325.5 1067.1L276.4 1117.3" stroke="#262626" stroke-width="3.9"/>
<path d="M32.0 0V-62.6H27.2L9.3 -46.4V-39.7L24.2 -49.0V0Z" fill="#262626" transform="translate(337.56,1114.50) scale(1.0000,1.0000)"/><text class="tk" font-size="86" transform="translate(385.39,1114.50) scale(1,1.04)">0</text>
<text class="tk" font-size="72" transform="translate(434.02,1070.90) scale(1,1.0)">8</text>
<rect x="509.95" y="39.0" width="1331.15" height="336.3" fill="#fff" stroke="#000" stroke-width="4"/>
<path d="M555 93.5H828" stroke="#ff0000" stroke-width="7"/>
<path d="M553 201H826.1" stroke="#3333ff" stroke-width="7.5" stroke-dasharray="26 11.8 8.2 11.7"/>
<path d="M554.9 316H828" stroke="#00ff00" stroke-width="8" stroke-dasharray="52.5 24.5"/>
<text class="sr" font-size="82.5" x="921.5" y="115.6">The proposed scheme</text>
<text class="sr" font-size="82.5" x="920.6" y="219.8">The static trigger scheme</text>
<text class="sr" font-size="82.5" x="917.5" y="334.1">The adaptive fuzzy scheme</text>
<text class="sr" font-size="103" x="934.8" y="1962.2">Time(s)</text>
<text class="sr" font-size="104" font-style="italic" transform="translate(99.6,886.6) rotate(-90)">τ</text>
<text class="sr" font-size="58" font-style="italic" transform="translate(124.4,843.8) rotate(-90)">u</text>
<text class="sr" font-size="104"  transform="translate(100.3,800.2) rotate(-90)">(</text>
<text class="sr" font-size="104"  transform="translate(99.6,767.8) rotate(-90)">N</text>
<text class="sr" font-size="104"  transform="translate(100.3,695.4) rotate(-90)">)</text>
<text class="sr" font-size="104" font-style="italic" transform="translate(99.9,1651.3) rotate(-90)">τ</text>
<text class="sr" font-size="58" font-style="italic" transform="translate(124.4,1604.5) rotate(-90)">r</text>
<text class="sr" font-size="104"  transform="translate(100.3,1568.1) rotate(-90)">(</text>
<text class="sr" font-size="104"  transform="translate(99.6,1535.8) rotate(-90)">N</text>
<circle cx="72.6" cy="1448.4" r="5.6" fill="#000"/>
<text class="sr" font-size="104"  transform="translate(99.6,1422.8) rotate(-90)">m</text>
<text class="sr" font-size="104"  transform="translate(100.3,1344.4) rotate(-90)">)</text>
</svg>
</body></html>
